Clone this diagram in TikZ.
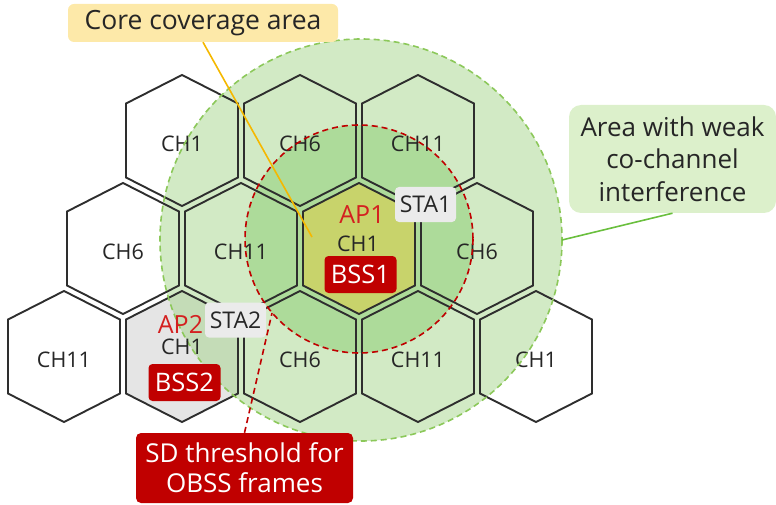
\documentclass[tikz,border=0pt]{standalone}
\usepackage{fontspec}
\setmainfont{Open Sans}
\definecolor{hexline}{HTML}{2E2E2E}
\definecolor{outerG}{HTML}{A5D58B}
\definecolor{innerG}{HTML}{ADDB9A}
\definecolor{coreHex}{HTML}{C8D36B}
\definecolor{apGray}{HTML}{E5E5E5}
\definecolor{bssRed}{HTML}{C00000}
\definecolor{apRed}{HTML}{D42020}
\definecolor{staGray}{HTML}{EBEBEB}
\definecolor{coreBoxC}{HTML}{FDE9A9}
\definecolor{areaBoxC}{HTML}{DCF0CB}
\definecolor{dashG}{HTML}{8CC85A}
\definecolor{lineG}{HTML}{6ABF3E}
\definecolor{lineY}{HTML}{F5B800}
\definecolor{txt}{HTML}{262626}
\tikzset{
  hexedge/.style={draw=hexline, line width=1.9pt, line join=miter},
  chlabel/.style={anchor=base, text=txt, font=\fontsize{21.5}{24}\selectfont, inner sep=0pt},
  aplabel/.style={anchor=base, text=apRed, font=\fontsize{25}{28}\selectfont, inner sep=0pt},
  bssbox/.style={fill=bssRed, rounded corners=4pt, text=white, font=\fontsize{25.5}{27}\selectfont,
    minimum width=72pt, minimum height=37pt, inner sep=0pt},
  stabox/.style={fill=staGray, rounded corners=4pt, text=txt, font=\fontsize{23}{25}\selectfont,
    minimum width=61pt, minimum height=35pt, inner sep=0pt},
  callout/.style={rounded corners=#1, inner sep=0pt, align=center},
}
\begin{document}
\begin{tikzpicture}[x=1pt, y=-1pt]
\useasboundingbox (0,0) rectangle (776,505);
% AP2 cell fill
\fill[apGray] (182,356.5-65.5) -- (182+56,356.5-37) -- (182+56,356.5+37) -- (182,356.5+65.5) -- (182-56,356.5+37) -- (182-56,356.5-37) -- cycle;
% coverage circles
\fill[outerG, fill opacity=0.5] (361,240) circle[radius=201];
\fill[innerG] (359,239) circle[radius=114];
% core cell fill
\fill[coreHex] (359,248.5-65.5) -- (359+56,248.5-37) -- (359+56,248.5+37) -- (359,248.5+65.5) -- (359-56,248.5+37) -- (359-56,248.5-37) -- cycle;
% hexagon outlines
\foreach \x/\y in {182/140.5, 300/140.5, 418/140.5,
                   123/248.5, 241/248.5, 359/248.5, 477/248.5,
                   64/356.5, 182/356.5, 300/356.5, 418/356.5, 536/356.5}
  \draw[hexedge] (\x,\y-65.5) -- (\x+56,\y-37) -- (\x+56,\y+37) -- (\x,\y+65.5) -- (\x-56,\y+37) -- (\x-56,\y-37) -- cycle;
% channel labels
\foreach \x/\y/\t [count=\i] in {182/140.5/CH1, 300/140.5/CH6, 418/140.5/CH11,
                   123/248.5/CH6, 241/248.5/CH11, 477/248.5/CH6,
                   64/356.5/CH11, 300/356.5/CH6, 418/356.5/CH11, 536/356.5/CH1}
  \node[chlabel] (ch\i) at (\x,\y+11) {\t};
% circle borders
\draw[dashG, line width=1.6pt, dash pattern=on 6pt off 4pt] (361,240) circle[radius=201];
\draw[bssRed, line width=1.6pt, dash pattern=on 6pt off 4pt] (359,239) circle[radius=114];
% AP1 cell
\node[aplabel] (ap1) at (362,223) {AP1};
\node[chlabel] (ch1c) at (358,251) {CH1};
\node[bssbox] (bss1) at (360.5,274.5) {BSS1};
\node[stabox] (sta1) at (425.5,204.5) {STA1};
% AP2 cell
\node[aplabel] (ap2) at (180.5,333) {AP2};
\node[chlabel] (ch2c) at (182,354) {CH1};
\node[bssbox] (bss2) at (184.5,382.5) {BSS2};
\node[stabox] (sta2) at (235.5,320) {STA2};
% callouts
\node[callout=6pt, fill=coreBoxC, text=txt, font=\fontsize{26.5}{28}\selectfont,
      minimum width=270pt, minimum height=38pt] (coreBox) at (203,23) {Core coverage area};
\node[callout=12pt, fill=areaBoxC, text=txt, font=\fontsize{26}{32.5}\selectfont,
      minimum width=207pt, minimum height=108pt] (areaBox) at (672.5,159) {Area with weak\\co-channel\\interference};
\node[callout=5pt, fill=bssRed, text=white, font=\fontsize{26}{30}\selectfont,
      minimum width=217pt, minimum height=70pt] (sdBox) at (244.5,468) {SD threshold for\\OBSS frames};
\coordinate (coreEnd) at (312,237);
\coordinate (areaEnd) at (562,240);
\coordinate (sdEnd) at (272,313);
\draw[lineY, line width=1.6pt] (coreBox.south) -- (coreEnd);
\draw[lineG, line width=1.6pt] (areaBox.south) -- (areaEnd);
\draw[bssRed, line width=1.6pt, dash pattern=on 6pt off 4pt] (sdBox.north) -- (sdEnd);
\end{tikzpicture}
\end{document}
